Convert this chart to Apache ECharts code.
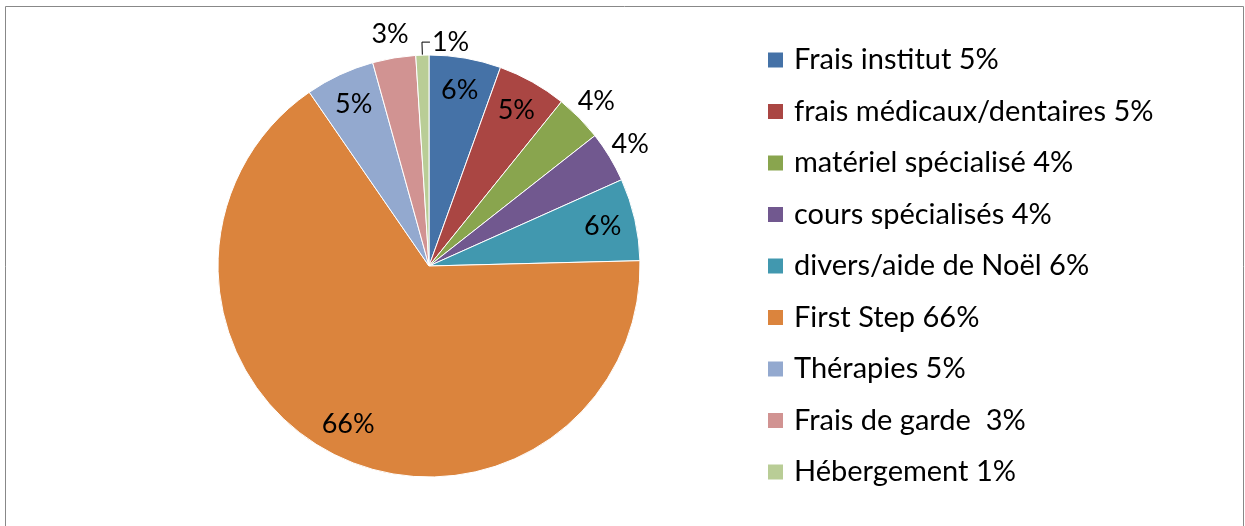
<!DOCTYPE html>
<html>
<head>
<meta charset="utf-8">
<script src="https://cdn.jsdelivr.net/npm/echarts@6/dist/echarts.min.js"></script>
<style>
  html, body { margin: 0; padding: 0; background: #fff; }
  #chart { width: 1245px; height: 526px; }
</style>
</head>
<body>
<div id="chart"></div>
<script>
// legend names (as typed in the source sheet) and slice values
const categories = [
	"Frais institut 5%",
	"frais médicaux/dentaires 5%",
	"matériel spécialisé 4%",
	"cours spécialisés 4%",
	"divers/aide de Noël 6%",
	"First Step 66%",
	"Thérapies 5%",
	"Frais de garde  3%",
	"Hébergement 1%",
];
const values = [5.5, 5.3, 3.6, 3.9, 6.3, 65.8, 5.3, 3.3, 1.0];

const colors = [
	"#4572A7", "#AA4643", "#89A54E", "#71588F", "#4198AF",
	"#DB843D", "#93A9CF", "#D19392", "#B9CD96",
];
// where each percentage label sits: inside the slice, just outside, or with a leader line
const labelPlace = ["in", "in", "out", "out", "in", "in", "in", "out", "line"];

const FONT = "Lato";
const CENTER = [429, 266];
const R = 211;

const chart = echarts.init(document.getElementById("chart"));

const baseLabel = {
	fontFamily: FONT,
	fontSize: 27,
	color: "#000",
	formatter: "{d}%",
};

function seriesData(place) {
	return categories.map((name, i) => ({
		name: name,
		value: values[i],
		label: { show: labelPlace[i] === place },
		labelLine: { show: labelPlace[i] === place },
	}));
}

const option = {
	animation: false,
	color: colors,
	graphic: [
		{
			type: "rect",
			shape: { x: 5.5, y: 6.5, width: 1238, height: 540 },
			style: { fill: "none", stroke: "#888", lineWidth: 1 },
			silent: true,
		},
	],
	legend: {
		orient: "vertical",
		left: 766,
		top: 44,
		padding: 0,
		itemWidth: 17,
		itemHeight: 17,
		itemGap: 19.5,
		selectedMode: false,
		icon: "rect",
		textStyle: {
			fontFamily: FONT,
			fontSize: 29,
			color: "#000",
			lineHeight: 32,
			padding: [0, 0, 0, 5],
		},
		data: categories.map((name, i) => ({
			name: name,
			itemStyle: { color: colors[i] },
		})),
	},
	series: [
		{
			type: "pie",
			center: CENTER,
			radius: R,
			startAngle: 90,
			clockwise: true,
			percentPrecision: 0,
			avoidLabelOverlap: false,
			silent: true,
			itemStyle: { borderColor: "#fff", borderWidth: 1 },
			label: Object.assign({}, baseLabel, { position: "outside", distanceToLabelLine: 3 }),
			labelLine: {
				length: 13,
				length2: 8,
				smooth: false,
				lineStyle: { color: "#000", width: 1 },
			},
			// flip the leader line of the small slice to the right, as in the source
			labelLayout: function (params) {
				const pts = params.labelLinePoints;
				if (!pts || labelPlace[params.dataIndex] !== "line") return {};
				const p1 = pts[1];
				const p2 = pts[2];
				const endX = p1[0] + (p1[0] - p2[0]);
				return {
					x: endX + 2,
					y: p2[1],
					align: "left",
					verticalAlign: "middle",
					labelLinePoints: [pts[0], p1, [endX, p2[1]]],
				};
			},
			data: seriesData("line"),
		},
		{
			// transparent ring to seat the inside labels near the rim
			type: "pie",
			center: CENTER,
			radius: [R * 0.66, R],
			startAngle: 90,
			percentPrecision: 0,
			silent: true,
			legendHoverLink: false,
			itemStyle: { color: "rgba(0,0,0,0)" },
			label: Object.assign({}, baseLabel, { position: "inside" }),
			labelLine: { show: false },
			data: seriesData("in"),
		},
		{
			// transparent ring just outside the pie for the outer labels
			type: "pie",
			center: CENTER,
			radius: [R, R * 1.2],
			startAngle: 90,
			percentPrecision: 0,
			silent: true,
			legendHoverLink: false,
			itemStyle: { color: "rgba(0,0,0,0)" },
			label: Object.assign({}, baseLabel, { position: "inside" }),
			labelLine: { show: false },
			data: seriesData("out"),
		},
	],
};

chart.setOption(option);
</script>
</body>
</html>
